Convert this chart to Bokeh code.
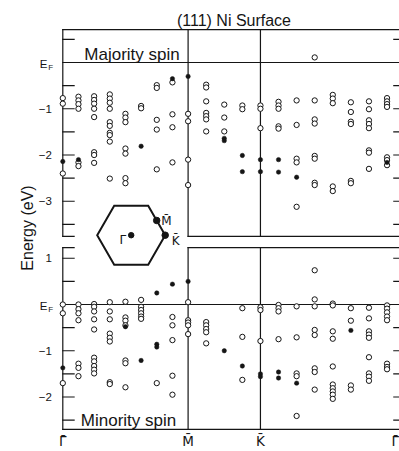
import math
from bokeh.plotting import figure
from bokeh.models import Range1d, ColumnDataSource
from bokeh.core.properties import value
from bokeh.embed import file_html
from bokeh.resources import INLINE

# ------------------------------------------------------------------ data
TITLE = "(111) Ni Surface"
PANEL_LABELS = ["Majority spin", "Minority spin"]
Y_LABEL = "Energy (eV)"
K_LABELS = ["Γ̄", "M̄", "K̄", "Γ̄"]
BZ_LABELS = ["Γ̄", "M̄", "K̄"]

# path segments ΓM, MK, KΓ (in units of ΓM) and number of k-steps in each
SEGMENTS = [1.0, 1.0 / math.sqrt(3), 2.0 / math.sqrt(3)]
SEG_STEPS = [8, 4, 8]

TOP_TICKS = [0.5, -0.5, -1.0, -1.5, -2.0, -2.5, -3.0, -3.5]
TOP_TICK_VALUES = [-1, -2, -3]
TOP_TICK_TEXT = ["−1", "−2", "−3"]
BOT_TICKS = [1.0, 0.5, -0.5, -1.0, -1.5, -2.0, -2.5]
BOT_TICK_VALUES = [1, -1, -2]
BOT_TICK_TEXT = ["1", "−1", "−2"]
TOP_RANGE = (-3.76, 0.71)
BOT_RANGE = (-2.70, 1.23)

# Majority spin: energies (eV) per k column (0 = Γ ... 8 = M ... 12 = K ... 19)
MAJ_OPEN = [
    [-0.77, -0.89, -2.40],
    [-0.74, -0.82, -0.90, -1.00, -2.16, -2.24],
    [-0.73, -0.81, -0.89, -1.00, -1.18, -1.94, -2.00, -2.17],
    [-0.69, -0.78, -0.87, -1.00, -1.29, -1.37, -1.52, -1.57, -1.71, -2.51],
    [-1.11, -1.19, -1.29, -1.86, -1.97, -2.50, -2.61],
    [-0.94, -0.99],
    [-0.49, -0.55, -1.24, -1.45, -2.31],
    [-0.43, -1.12, -1.40, -2.16],
    [-1.11, -1.27, -2.10, -2.65],
    [-0.48, -0.54, -0.84, -1.09, -1.16, -1.23, -1.49],
    [-0.91, -1.19, -1.49],
    [-0.93, -1.01],
    [-0.93, -1.00, -1.42],
    [-0.85, -0.93, -1.00, -1.38, -1.43],
    [-0.82, -1.35, -2.08, -2.16, -3.12],
    [0.11, -0.82, -1.23, -1.32, -2.02, -2.08, -2.60, -2.65],
    [-0.70, -0.78, -0.88, -2.68, -2.78],
    [-0.86, -1.07, -1.28, -1.33, -2.56, -2.61],
    [-0.84, -1.01, -1.25, -1.33, -1.42, -1.90, -1.95, -2.30],
    [-0.77, -0.84, -0.90, -0.96, -2.05, -2.11, -2.22],
]
MAJ_FILLED = [
    [-2.14], [-2.10], [], [], [], [-1.81], [], [-0.35], [-0.30], [],
    [-1.64, -1.69], [-2.01, -2.36], [-2.10, -2.36], [-2.10, -2.37], [-2.48],
    [], [], [], [], [-2.16],
]
# Minority spin
MIN_OPEN = [
    [0.00, -0.19, -1.70],
    [0.00, -0.10, -0.19, -0.34, -1.28, -1.37, -1.55],
    [0.01, -0.05, -0.15, -0.32, -0.54, -1.15, -1.23, -1.33, -1.41, -1.49],
    [0.05, -0.15, -0.32, -0.63, -0.72, -0.80, -1.68, -1.72],
    [0.06, -0.28, -0.35, -0.45, -1.21, -1.27, -1.79],
    [0.10, -0.05, -0.12, -0.19, -0.26, -0.31],
    [-1.70],
    [-0.27, -0.45, -0.77, -1.54, -1.95],
    [0.05, -0.34, -0.39, -0.45, -0.64],
    [-0.38, -0.45, -0.53, -0.60, -0.84],
    [],
    [-0.08, -0.70, -1.63],
    [-0.06, -0.12, -0.79],
    [-0.01, -0.08, -0.15, -0.75],
    [-0.04, -0.71, -1.49, -1.55, -2.41],
    [0.74, 0.11, -0.04, -0.55, -0.66, -1.38, -1.46, -1.84],
    [0.02, -0.02, -0.58, -0.74, -1.34, -1.73, -1.81, -1.88, -1.95, -2.04],
    [-0.08, -0.35, -1.75, -1.84],
    [-0.07, -0.30, -0.58, -0.65, -0.72, -1.14, -1.49, -1.56, -1.65],
    [-0.02, -0.09, -0.17, -0.26, -0.34, -1.28, -1.35, -1.40],
]
MIN_FILLED = [
    [-1.37], [], [], [], [-0.48], [-1.21], [0.25, -0.86, -0.92], [0.44], [0.50], [],
    [-1.00], [-1.33], [-1.50, -1.56], [-1.46, -1.59], [-1.70],
    [], [], [-0.56], [], [],
]

# ------------------------------------------------------------------ layout
W, H = 399, 451
X0, PXK = 62.3, 125.3          # pixel of Γ, pixels per unit k
EF0, PXE = 304.0, 46.25        # pixel of minority E_F, pixels per eV
OFF = (304.0 - 62.0) / PXE     # vertical shift of the majority panel
INK = "#151515"
FONT = value("Liberation Sans")
KFONT = value("DejaVu Sans")


def kx(px):
    return (px - X0) / PXK


def ey(py):
    return (EF0 - py) / PXE


K_SYM = [0.0]
for s in SEGMENTS:
    K_SYM.append(K_SYM[-1] + s)
KCOL = []
for i, (s, n) in enumerate(zip(SEGMENTS, SEG_STEPS)):
    for j in range(n):
        KCOL.append(K_SYM[i] + s * j / n)
KCOL.append(K_SYM[-1])
KM, KK, KEND = K_SYM[1], K_SYM[2], K_SYM[3]
TICK = 11.3 / PXK

p = figure(width=W, height=H,
           x_range=Range1d(kx(0), kx(W)), y_range=Range1d(ey(H), ey(0)),
           output_backend="svg", toolbar_location=None, min_border=0,
           x_axis_location=None, y_axis_location=None, title_location=None)
p.xgrid.visible = False
p.ygrid.visible = False
p.outline_line_color = None
p.background_fill_color = "white"
p.border_fill_color = "white"

# frames
sx0, sy0, sx1, sy1 = [], [], [], []


def seg(a, b, c, d):
    sx0.append(a); sy0.append(b); sx1.append(c); sy1.append(d)


for (lo, hi), off, is_top in ((TOP_RANGE, OFF, True), (BOT_RANGE, 0.0, False)):
    lo, hi = lo + off, hi + off
    if is_top:
        seg(0, hi, KEND, hi)
        seg(0, lo, TICK, lo); seg(KM, lo, KEND, lo)
    else:
        seg(0, hi, TICK, hi); seg(KM, hi, KEND, hi)
        seg(0, lo, KEND, lo)
    seg(0, lo, 0, hi)
    for kv in (KM, KK, KEND):
        seg(kv, lo, kv, hi)
    seg(0, off, KEND, off)
    for t in (TOP_TICKS if is_top else BOT_TICKS):
        seg(0, t + off, TICK, t + off)
        seg(KEND - TICK, t + off, KEND, t + off)

p.segment(x0="x0", y0="y0", x1="x1", y1="y1",
          source=ColumnDataSource(dict(x0=sx0, y0=sy0, x1=sx1, y1=sy1)),
          line_color=INK, line_width=1.2, line_cap="square")


def flat(cols, off):
    xs, ys = [], []
    for i, col in enumerate(cols):
        for e in col:
            xs.append(KCOL[i]); ys.append(e + off)
    return xs, ys


for cols_o, cols_f, off in ((MAJ_OPEN, MAJ_FILLED, OFF), (MIN_OPEN, MIN_FILLED, 0.0)):
    xo, yo = flat(cols_o, off)
    p.scatter(xo, yo, marker="circle", size=5.3, fill_color="white",
              line_color=INK, line_width=1.0)
    xf, yf = flat(cols_f, off)
    p.scatter(xf, yf, marker="circle", size=4.4, fill_color=INK,
              line_color=INK, line_width=0.5)

# y tick labels
ty = [v + OFF for v in TOP_TICK_VALUES] + list(BOT_TICK_VALUES)
tt = TOP_TICK_TEXT + BOT_TICK_TEXT
p.text(x=[0] * len(ty), y=ty, text=tt, x_offset=-11, text_align="right",
       text_baseline="middle", text_font=FONT, text_font_size=value("11.5px"),
       text_color=INK)
for off in (OFF, 0.0):
    p.text(x=[0], y=[off - 1.0 / PXE], text=["E"], x_offset=-15.4, text_align="right",
           text_baseline="middle", text_font=FONT, text_font_size=value("11.5px"),
           text_color=INK)
    p.text(x=[0], y=[off - 4.5 / PXE], text=["F"], x_offset=-14.6, text_align="left",
           text_baseline="middle", text_font=FONT, text_font_size=value("8px"),
           text_color=INK)

# k-point labels
p.text(x=[0, KM, KK], y=[ey(440.5)] * 3, text=K_LABELS[:3],
       text_align="center", text_baseline="middle", text_font=KFONT,
       text_font_size=value("13.5px"), text_color=INK)
p.text(x=[kx(398.5)], y=[ey(440.5)], text=K_LABELS[3:],
       text_align="right", text_baseline="middle", text_font=KFONT,
       text_font_size=value("13.5px"), text_color=INK)

# title, panel labels, axis label
p.text(x=[KEND / 2], y=[ey(19.5)], text=[TITLE], text_align="center",
       text_baseline="alphabetic", text_font=FONT, text_font_size=value("16px"),
       text_color=INK)
p.text(x=[kx(131.5), kx(128.0)], y=[ey(53.5), ey(420.0)], text=PANEL_LABELS,
       text_align="center", text_baseline="alphabetic", text_font=FONT,
       text_font_size=value("17px"), text_color=INK)
p.text(x=[kx(26.5)], y=[ey(227.5)], text=[Y_LABEL], angle=math.pi / 2,
       text_align="center", text_baseline="alphabetic", text_font=FONT,
       text_font_size=value("16px"), text_color=INK)

# inset: surface Brillouin zone
cx, cy, R = kx(130.7), ey(234.7), 34.0
hx = [cx + R * math.cos(a * math.pi / 3) / PXK for a in range(7)]
hy = [cy + R * math.sin(a * math.pi / 3) / PXE for a in range(7)]
p.line(hx, hy, line_color=INK, line_width=2.0, line_join="miter")
ap = R * math.cos(math.pi / 6)
bz_x = [cx, cx + ap * math.cos(math.pi / 6) / PXK, cx + R / PXK]
bz_y = [cy, cy + ap * math.sin(math.pi / 6) / PXE, cy]
p.scatter(bz_x, bz_y, marker="circle", size=[5.5, 6.5, 6.5], fill_color=INK,
          line_color=INK)
p.text(x=bz_x, y=[cy - 4.6 / PXE, bz_y[1] - 0.3 / PXE, cy - 5.3 / PXE], text=BZ_LABELS,
       x_offset=[-5, 4.5, 6.5], text_align=["right", "left", "left"],
       text_baseline="alphabetic", text_font=KFONT, text_font_size=value("12px"),
       text_color=INK)

open("out.html", "w").write(file_html(p, INLINE))
